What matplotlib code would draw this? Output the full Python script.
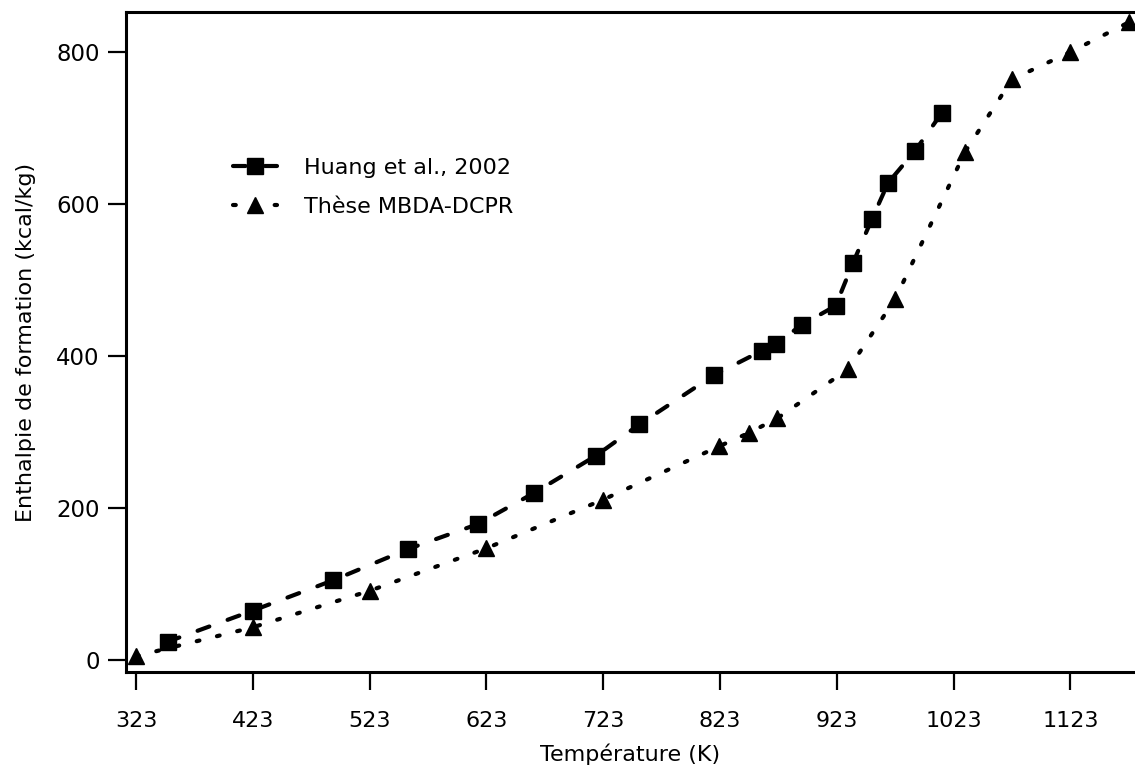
import matplotlib
matplotlib.use("Agg")
import matplotlib.pyplot as plt

# data
temp_huang = [350, 423, 492, 556, 616, 664, 717, 754, 818, 859, 871, 893, 922, 937, 953, 967, 990, 1013]
enth_huang = [24, 65, 105, 146, 179, 220, 269, 310, 375, 407, 416, 441, 466, 523, 580, 628, 670, 720]
temp_these = [323, 423, 523, 623, 723, 822, 848, 872, 933, 973, 1033, 1073, 1123, 1173]
enth_these = [5, 43, 91, 147, 211, 281, 299, 318, 383, 475, 669, 764, 800, 839]
xticks = [323, 423, 523, 623, 723, 823, 923, 1023, 1123]
yticks = [0, 200, 400, 600, 800]

plt.rcParams['font.family'] = 'DejaVu Sans'
plt.rcParams['lines.scale_dashes'] = False

W, H = 1135, 776
fig = plt.figure(figsize=(W/100, H/100), dpi=100)
ax = fig.add_axes([126/W, 1-672/H, (W-126)/W, (672-12)/H])

ax.plot(temp_huang, enth_huang, color='black', lw=3, dashes=(9, 14),
        dash_capstyle='round', marker='s', ms=11, label='Huang et al., 2002')
ax.plot(temp_these, enth_these, color='black', lw=3, dashes=(2, 13),
        dash_capstyle='round', marker='^', ms=11, label='Thèse MBDA-DCPR',
        clip_on=False)

ax.set_xlim(314.4, 1178.3)
ax.set_ylim(-15.8, 852.6)
ax.set_xticks(xticks)
ax.set_yticks(yticks)
ax.tick_params(axis='x', length=13, width=1.6, pad=15, labelsize=16)
ax.tick_params(axis='y', length=13, width=1.6, pad=6, labelsize=16.5)

for side in ['left', 'bottom', 'top']:
    ax.spines[side].set_linewidth(2.2)
ax.spines['right'].set_visible(False)

ax.set_xlabel('Température (K)', fontsize=16)
ax.set_ylabel('Enthalpie de formation (kcal/kg)', fontsize=16)
ax.xaxis.set_label_coords(0.5, -0.108)
ax.yaxis.set_label_coords(-0.089, 0.5)

ax.legend(loc='upper left', bbox_to_anchor=(233/W, 1-158/H),
          bbox_transform=fig.transFigure, frameon=False, fontsize=16,
          handlelength=2.0, handletextpad=1.2, labelspacing=0.85,
          borderpad=0, borderaxespad=0)

fig.savefig('out.png', dpi=100)
